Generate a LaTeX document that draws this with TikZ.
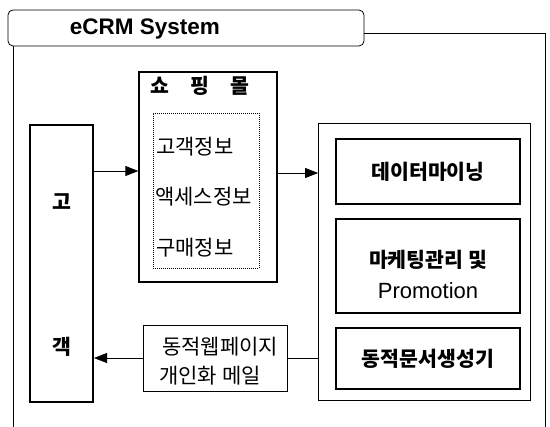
\documentclass[tikz,border=0pt]{standalone}
\usepackage{fontspec}
\setmainfont{Liberation Sans}
\newfontfamily\kr{Noto Sans CJK KR}
\usetikzlibrary{arrows.meta}

\tikzset{
  box/.style={draw,inner sep=0pt,anchor=center},
  thick box/.style={box,line width=2pt},
  txt/.style={inner sep=0pt,font=\kr\fontsize{21}{25}\selectfont},
  bold txt/.style={inner sep=0pt,font=\kr\bfseries\fontsize{20.5}{25}\selectfont},
  arr/.style={-{Triangle[length=13pt,width=10pt]},line width=0.8pt}
}

\begin{document}
\begin{tikzpicture}[x=1pt,y=-1pt]
    \useasboundingbox (0,0) rectangle (550,427);
    % outer frame and title
    \node[box,rounded corners=5pt,line width=0.8pt,minimum width=356pt,minimum height=36pt]
      (title) at (186,28) {};
    \node[inner sep=0pt,font=\bfseries\fontsize{22.5}{26}\selectfont] (titletxt) at (145,29) {eCRM\ System};
    \coordinate (frTR) at (545,33);
    \coordinate (frBR) at (545,427);
    \coordinate (frBL) at (13,427);
    \draw[line width=0.8pt] (title.east |- frTR) -- (frTR) -- (frBR);
    \draw[line width=0.8pt] (title.south west -| frBL) -- (frBL);
    % customer
    \node[thick box,minimum width=63pt,minimum height=277pt] (cust) at (61.5,263.5) {};
    \node[bold txt] (cust1) at (61.5,202) {고};
    \node[bold txt] (cust2) at (61.5,347) {객};
    % shopping mall
    \node[box,line width=1.3pt,minimum width=138pt,minimum height=210pt] (shop) at (208,177) {};
    \node[bold txt] (shoptxt) at (200,86) {쇼\hspace{21pt}핑\hspace{21pt}몰};
    \node[box,line width=0.6pt,dash pattern=on 1pt off 1pt,minimum width=106pt,minimum height=155pt]
      (info) at (206,190.5) {};
    \node[txt,anchor=west] (info1) at (156,147) {고객정보};
    \node[txt,anchor=west] (info2) at (155,197) {액세스정보};
    \node[txt,anchor=west] (info3) at (156,248) {구매정보};
    % eCRM modules
    \node[box,line width=0.8pt,minimum width=212pt,minimum height=277pt] (grp) at (424.5,261.5) {};
    \node[thick box,minimum width=184pt,minimum height=65pt,bold txt] (mine) at (428,171.5) {데이터마이닝};
    \node[thick box,minimum width=184pt,minimum height=94pt] (mkt) at (428,266) {};
    \node[bold txt] (mkt1) at (428,260) {마케팅관리 및};
    \node[inner sep=0pt,font=\fontsize{22}{25}\selectfont] (mkt2) at (428,291) {Promotion};
    \node[thick box,minimum width=184pt,minimum height=61pt,bold txt] (doc) at (428,358.5) {동적문서생성기};
    % output
    \node[box,line width=0.8pt,minimum width=144pt,minimum height=66pt] (out) at (215,358) {};
    \node[txt] (out1) at (220,347) {동적웹페이지};
    \node[txt] (out2) at (210,376) {개인화 메일};
    % connectors
    \coordinate (inA) at (0,171);
    \coordinate (inB) at (0,173);
    \draw[arr] (cust.east |- inA) -- (shop.west |- inA);
    \draw[arr] (shop.east |- inB) -- (grp.west |- inB);
    \draw[line width=0.8pt] (grp.west |- out.east) -- (out.east);
    \draw[arr] (out.west) -- (out.west -| cust.east);
\end{tikzpicture}
\end{document}
